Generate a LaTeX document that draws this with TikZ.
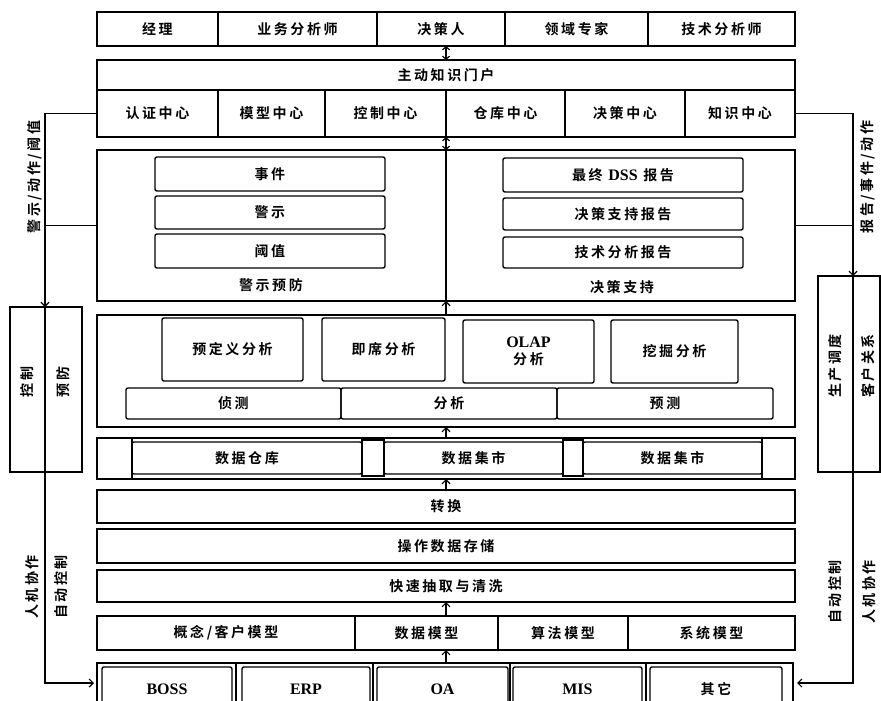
\documentclass[tikz,border=0pt]{standalone}
\usepackage{fontspec}
\usetikzlibrary{arrows.meta}
\newfontfamily\cjk{Noto Sans CJK SC Bold}[LetterSpace=18]
\newfontfamily\lat{Liberation Serif}
\newcommand\cjkf{\cjk\fontsize{14}{17}\selectfont}
\newcommand\latw[1]{{\lat\bfseries\fontsize{16}{17}\selectfont #1}}
\newcommand\bx[7][]{\node[bx,#1,anchor=north west,minimum width=#5pt-#3pt,minimum height=#6pt-#4pt] (#2) at (#3,#4) {#7};}
\tikzset{
  bx/.style={draw, line width=1.4pt, inner sep=0pt, outer sep=0pt, align=center, font=\cjkf},
  ib/.style={rounded corners=2pt},
  lab/.style={font=\cjkf, inner sep=0pt},
  con/.style={line width=1.2pt},
  arr/.style={con, -{Straight Barb[length=4pt,width=8pt]}},
  darr/.style={con, {Straight Barb[length=3pt,width=7pt]}-{Straight Barb[length=3pt,width=7pt]}},
}
\begin{document}
\begin{tikzpicture}[x=1pt,y=-1pt]
\useasboundingbox (0,0) rectangle (881,701);
\clip (0,0) rectangle (881,701);
% users
\bx{u1}{97}{12}{218}{46}{经理}
\bx{u2}{218}{12}{377}{46}{业务分析师}
\bx{u3}{377}{12}{505}{46}{决策人}
\bx{u4}{505}{12}{648}{46}{领域专家}
\bx{u5}{648}{12}{795}{46}{技术分析师}
% portal
\bx{portal}{97}{60}{795}{90}{主动知识门户}
\bx{c1}{97}{90}{218}{137}{认证中心}
\bx{c2}{218}{90}{325}{137}{模型中心}
\bx{c3}{325}{90}{446}{137}{控制中心}
\bx{c4}{446}{90}{565}{137}{仓库中心}
\bx{c5}{565}{90}{685}{137}{决策中心}
\bx{c6}{685}{90}{795}{137}{知识中心}
\draw[darr] (portal.north |- u3.south) -- (portal.north);
% warning / decision support
\bx{warn}{97}{150}{446}{301}{}
\bx{dss}{446}{150}{795}{301}{}
\draw[darr] (dss.north west |- c4.south) -- (dss.north west);
\bx[ib]{ev}{155}{157}{385}{191}{事件}
\bx[ib]{al}{155}{196}{385}{229}{警示}
\bx[ib]{th}{155}{234}{385}{268}{阈值}
\node[lab] (warnlbl) at (271,285) {警示预防};
\bx[ib]{r1}{503}{158}{743}{192}{最终 \latw{DSS} 报告}
\bx[ib]{r2}{503}{198}{743}{230}{决策支持报告}
\bx[ib]{r3}{503}{237}{743}{268}{技术分析报告}
\node[lab] (dsslbl) at (622,287) {决策支持};
% analysis
\bx{ana}{97}{315}{795}{427}{}
\bx[ib]{a1}{162}{318}{303}{381}{预定义分析}
\bx[ib]{a2}{322}{318}{445}{381}{即席分析}
\bx[ib]{a3}{463}{320}{594}{383}{\latw{OLAP}\\分析}
\bx[ib]{a4}{611}{320}{738}{383}{挖掘分析}
\bx[ib]{d1}{126}{388}{341}{419}{侦测}
\bx[ib]{d2}{341}{388}{557}{419}{分析}
\bx[ib]{d3}{557}{388}{773}{419}{预测}
\draw[arr] (dss.south west |- ana.north) -- (dss.south west);
% warehouse
\bx{wh}{97}{438}{795}{479}{}
\bx{n0}{97}{438}{132}{479}{}
\bx{n1}{362}{440}{384}{476}{}
\bx{n2}{563}{440}{583}{476}{}
\bx{n3}{762}{438}{795}{479}{}
\bx[ib]{w1}{132}{442}{362}{474}{数据仓库}
\bx[ib]{w2}{384}{442}{563}{474}{数据集市}
\bx[ib]{w3}{583}{442}{762}{474}{数据集市}
\draw[arr] (wh.north) -- (ana.south);
% layers
\bx{tr}{97}{490}{795}{523}{转换}
\draw[arr] (tr.north) -- (wh.south);
\bx{ods}{97}{529}{795}{563}{操作数据存储}
\bx{etl}{97}{570}{795}{602}{快速抽取与清洗}
\bx{m1}{97}{616}{355}{650}{概念/客户模型}
\bx{m2}{355}{616}{498}{650}{数据模型}
\bx{m3}{498}{616}{628}{650}{算法模型}
\bx{m4}{628}{616}{795}{650}{系统模型}
\draw[arr] (etl.south |- m2.north) -- (etl.south);
% sources
\bx{src}{97}{663}{793}{712}{}
\bx[ib]{s1}{102}{667}{232}{712}{\latw{BOSS}}
\bx[ib]{s2}{242}{667}{370}{712}{\latw{ERP}}
\bx[ib]{s3}{377}{667}{508}{712}{\latw{OA}}
\bx[ib]{s4}{513}{667}{642}{712}{\latw{MIS}}
\bx[ib]{s5}{650}{667}{782}{712}{其它}
\draw[con] (s1.north east) ++(4,-4) -- ++(0,60);
\draw[con] (s2.north east) ++(3,-4) -- ++(0,60);
\draw[con] (s3.north east) ++(2,-4) -- ++(0,60);
\draw[con] (s4.north east) ++(4,-4) -- ++(0,60);
\draw[arr] (etl.south |- src.north) -- (etl.south |- m2.south);
% side boxes
\bx{lb1}{10}{307}{45}{472}{}
\bx{lb2}{45}{307}{82}{472}{}
\node[lab,rotate=90] (lbt1) at (27.5,382) {控制};
\node[lab,rotate=90] (lbt2) at (63.5,382) {预防};
\bx{rb1}{818}{276}{853}{472}{}
\bx{rb2}{853}{276}{880}{472}{}
\node[lab,rotate=90] (rbt1) at (835.5,366) {生产调度};
\node[lab,rotate=90] (rbt2) at (868,366) {客户关系};
% side connectors
\coordinate (lend) at (94,683);
\coordinate (rend) at (797,683);
\draw[arr] (c1.west) -| (lb1.north east);
\draw[con] (warn.west) -- (warn.west -| lb1.east);
\draw[arr] (lb1.south east) |- (lend);
\draw[arr] (c6.east) -| (rb1.north east);
\draw[con] (dss.east) -- (dss.east -| rb1.east);
\draw[arr] (rb1.south east) |- (rend);
\node[lab,rotate=90] (t1) at (35,177) {警示/动作/阈值};
\node[lab,rotate=90] (t2) at (868,177) {报告/事件/动作};
\node[lab,rotate=90] (t3) at (32,587) {人机协作};
\node[lab,rotate=90] (t4) at (61,587) {自动控制};
\node[lab,rotate=90] (t5) at (835,592) {自动控制};
\node[lab,rotate=90] (t6) at (869,592) {人机协作};
\end{tikzpicture}
\end{document}
